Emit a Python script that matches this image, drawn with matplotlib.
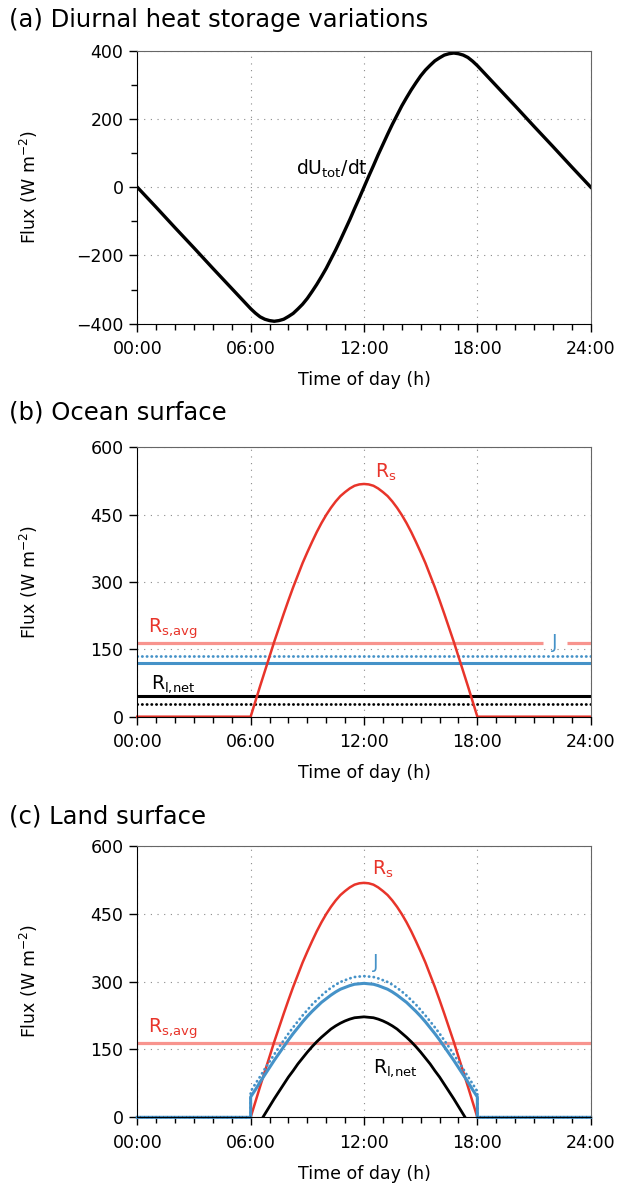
import numpy as np
import matplotlib
matplotlib.use('Agg')
import matplotlib.pyplot as plt
from matplotlib.ticker import MultipleLocator

plt.rcParams['font.family'] = ['DejaVu Sans']
plt.rcParams['mathtext.fontset'] = 'dejavusans'

# daytime grid, quarter-hour steps from 06:00 to 18:00
hours_day = list(np.arange(6, 18.01, 0.25))

# (a) heat storage change
hours_a = [0, 1, 2, 3, 4, 5] + hours_day + [19, 20, 21, 22, 23, 24]
dudt = [0, -59, -119, -178, -238, -297,
        -356, -369, -380, -387, -391, -393, -391, -387, -379, -370, -357, -343, -326,
        -306, -285, -262, -238, -211, -184, -155, -125, -95, -63, -32, 0,
        32, 63, 95, 125, 155, 184, 211, 238, 262, 285, 306, 326,
        343, 357, 370, 379, 387, 391, 393, 391, 387, 380, 369, 356,
        297, 238, 178, 119, 59, 0]

# (b), (c) daytime fluxes
rs_day = [0, 34, 68, 101, 134, 167, 198, 229, 259, 288, 315, 342, 366,
          389, 411, 431, 449, 465, 479, 491, 500, 508, 514, 517, 518,
          517, 514, 508, 500, 491, 479, 465, 449, 431, 411, 389, 366,
          342, 315, 288, 259, 229, 198, 167, 134, 101, 68, 34, 0]
j_land_day = [45, 61, 78, 94, 110, 126, 141, 156, 171, 185, 198, 211, 223,
              234, 244, 254, 262, 270, 277, 283, 287, 291, 294, 295, 296,
              295, 294, 291, 287, 283, 277, 270, 262, 254, 244, 234, 223,
              211, 198, 185, 171, 156, 141, 126, 110, 94, 78, 61, 45]
j_land_dot_day = [57, 74, 90, 107, 123, 139, 155, 170, 185, 199, 212, 225, 237,
                  249, 259, 269, 278, 286, 293, 299, 303, 307, 310, 311, 312,
                  311, 310, 307, 303, 299, 293, 286, 278, 269, 259, 249, 237,
                  225, 212, 199, 185, 170, 155, 139, 123, 107, 90, 74, 57]
rl_land_day = [-45, -28, -10, 7, 24, 41, 57, 73, 89, 103, 118, 131, 144,
               156, 167, 177, 186, 195, 202, 208, 213, 217, 220, 221, 222,
               221, 220, 217, 213, 208, 202, 195, 186, 177, 167, 156, 144,
               131, 118, 103, 89, 73, 57, 41, 24, 7, -10, -28, -45]

# ocean constants
rs_avg = 165
j_ocean = 119
j_ocean_dot = 135
rl_ocean = 46
rl_ocean_dot = 29

xtick_labels = ['00:00', '06:00', '12:00', '18:00', '24:00']

red = '#E8342A'
salmon = '#F8948E'
blue = '#4592C8'
dots = (0, (0.1, 1.6))

# full-day series: zero at night
hours_full = [0] + hours_day + [24]
rs_full = [0] + rs_day + [0]
hours_j = [0, 6] + hours_day + [18, 24]
j_land = [0, 0] + j_land_day + [0, 0]
j_land_dot = [0, 0] + j_land_dot_day + [0, 0]

fig = plt.figure(figsize=(6.17, 11.86), dpi=100)
ax_a = fig.add_axes([0.2225, 0.7271, 0.7349, 0.2302])
ax_b = fig.add_axes([0.2225, 0.3957, 0.7349, 0.2273])
ax_c = fig.add_axes([0.2225, 0.0579, 0.7349, 0.2290])


def style(ax, ymin, ymax, ystep, yminor=None):
    ax.set_xlim(0, 24)
    ax.set_ylim(ymin, ymax)
    ax.set_xticks(range(0, 25, 6))
    ax.set_xticklabels(xtick_labels)
    ax.xaxis.set_minor_locator(MultipleLocator(1))
    ax.set_yticks(np.arange(ymin, ymax + 1, ystep))
    if yminor:
        ax.yaxis.set_minor_locator(MultipleLocator(yminor))
    ax.tick_params(which='both', direction='out', top=False, right=False,
                   labelsize=12.5, width=1)
    ax.tick_params(axis='x', pad=6)
    ax.tick_params(axis='y', pad=4)
    ax.tick_params(which='major', length=6)
    ax.tick_params(which='minor', length=4.5)
    ax.grid(True, which='major', color='#8a8a8a', lw=0.8, ls=(0, (1, 5)))
    for s in ['top', 'right']:
        ax.spines[s].set_color('#666666')
    for s in ['left', 'bottom']:
        ax.spines[s].set_color('black')
    ax.set_xlabel('Time of day (h)', fontsize=12.5)
    ax.set_ylabel('Flux (W m$^{-2}$)', fontsize=12.5)
    ax.xaxis.set_label_coords(0.5, -0.175)
    ax.yaxis.set_label_coords(-0.215, 0.5)


# (a)
style(ax_a, -400, 400, 200, 100)
ax_a.plot(hours_a, dudt, color='black', lw=2.4)
ax_a.text(12.2, 37, r'$\mathregular{dU_{tot}/dt}$', ha='right', va='baseline', fontsize=13.5)

# (b)
style(ax_b, 0, 600, 150)
ax_b.hlines([rs_avg, rs_avg], [0, 22.72], [21.45, 24], color=salmon, lw=2.3)
ax_b.axhline(j_ocean_dot, color=blue, lw=2.0, ls=dots, dash_capstyle='round')
ax_b.axhline(j_ocean, color=blue, lw=2.2)
ax_b.axhline(rl_ocean, color='black', lw=2.2)
ax_b.axhline(rl_ocean_dot, color='black', lw=2.0, ls=dots, dash_capstyle='round')
ax_b.plot(hours_full, rs_full, color=red, lw=1.8, clip_on=False)
ax_b.text(12.6, 531, r'$\mathregular{R_s}$', color=red, fontsize=13.5, va='baseline')
ax_b.text(0.55, 186, r'$\mathregular{R_{s{,}avg}}$', color=red, fontsize=13.5, va='baseline')
ax_b.text(22.1, rs_avg, 'J', color=blue, fontsize=13.5, ha='center', va='center')
ax_b.text(0.75, 63, r'$\mathregular{R_{l{,}net}}$', color='black', fontsize=13.5, va='baseline')

# (c)
style(ax_c, 0, 600, 150)
ax_c.axhline(rs_avg, color=salmon, lw=2.3)
ax_c.plot(hours_full, rs_full, color=red, lw=1.8)
ax_c.plot(hours_day, rl_land_day, color='black', lw=2.0)
ax_c.plot(hours_j, j_land, color=blue, lw=2.2, clip_on=False)
ax_c.plot(hours_j, j_land_dot, color=blue, lw=2.0, ls=dots, dash_capstyle='round', clip_on=False)
ax_c.hlines([0, 0], [0, 18], [6, 24], color='black', lw=1.6, ls=dots, clip_on=False, zorder=3)
ax_c.text(12.4, 535, r'$\mathregular{R_s}$', color=red, fontsize=13.5, va='baseline')
ax_c.text(12.45, 331, 'J', color=blue, fontsize=13.5, va='baseline')
ax_c.text(0.55, 186, r'$\mathregular{R_{s{,}avg}}$', color=red, fontsize=13.5, va='baseline')
ax_c.text(12.45, 98, r'$\mathregular{R_{l{,}net}}$', color='black', fontsize=13.5, va='baseline')

fig.text(0.014, 0.9775, '(a) Diurnal heat storage variations', fontsize=17.5, va='baseline')
fig.text(0.014, 0.6459, '(b) Ocean surface', fontsize=17.5, va='baseline')
fig.text(0.014, 0.3058, '(c) Land surface', fontsize=17.5, va='baseline')

fig.savefig('out.png', dpi=100)
